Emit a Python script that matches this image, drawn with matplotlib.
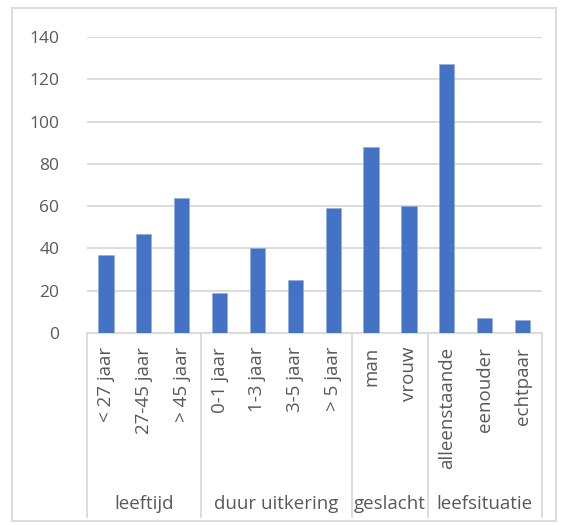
import numpy as np
import matplotlib.pyplot as plt
from matplotlib.transforms import blended_transform_factory
from matplotlib.patches import Rectangle

# data
labels = ['< 27 jaar', '27-45 jaar', '> 45 jaar',
          '0-1 jaar', '1-3 jaar', '3-5 jaar', '> 5 jaar',
          'man', 'vrouw',
          'alleenstaande', 'eenouder', 'echtpaar']
values = [37, 47, 64, 19, 40, 25, 59, 88, 60, 127, 7, 6]
groups = ['leeftijd', 'duur uitkering', 'geslacht', 'leefsituatie']
group_sizes = [3, 4, 2, 3]
yticks = [0, 20, 40, 60, 80, 100, 120, 140]

plt.rcParams['font.family'] = ['Open Sans', 'DejaVu Sans']
text_color = '#595959'
grid_color = '#d9d9d9'

W, H = 567, 525
fig = plt.figure(figsize=(W / 100, H / 100), dpi=100)

# plot area in pixels
x0, x1 = 87, 541.5
y_base, y_top = 333, 37
ax = fig.add_axes([x0 / W, (H - y_base) / H, (x1 - x0) / W, (y_base - y_top) / H])

pos = np.arange(len(values))
ax.bar(pos, values, width=0.4, color='#4472C4', edgecolor='#8faadc', linewidth=0.4, zorder=3)

ax.set_xlim(-0.5, len(values) - 0.5)
ax.set_ylim(0, 140)
ax.set_yticks(yticks)
ax.set_yticklabels([str(v) for v in yticks], fontsize=12.5, color=text_color)
ax.yaxis.grid(True, color=grid_color, linewidth=1.3, zorder=0)
ax.tick_params(axis='y', length=0, pad=20)

ax.set_xticks(pos)
ax.set_xticklabels(labels, rotation=90, fontsize=13.5, color=text_color, va='top')
ax.tick_params(axis='x', length=0, pad=10)

for side in ['top', 'right', 'left']:
    ax.spines[side].set_visible(False)
ax.spines['bottom'].set_color(grid_color)
ax.spines['bottom'].set_linewidth(1.3)

# multi-level category axis
trans = blended_transform_factory(ax.transData, ax.transAxes)
axis_h = y_base - y_top
low = -(517 - y_base) / axis_h
label_y = -(504 - y_base) / axis_h
edges = np.concatenate([[0], np.cumsum(group_sizes)]) - 0.5
for e in edges:
    ax.plot([e, e], [0, low], transform=trans, color=grid_color, linewidth=1.3, clip_on=False)
for name, a, b in zip(groups, edges[:-1], edges[1:]):
    ax.text((a + b) / 2, label_y, name, transform=trans, ha='center', va='center',
            fontsize=13.5, color=text_color)

# chart border
fig.patches.append(Rectangle((12 / W, 4 / H), 544 / W, 513 / H, transform=fig.transFigure,
                             fill=False, edgecolor=grid_color, linewidth=1.3))

fig.savefig('out.png', dpi=100)
